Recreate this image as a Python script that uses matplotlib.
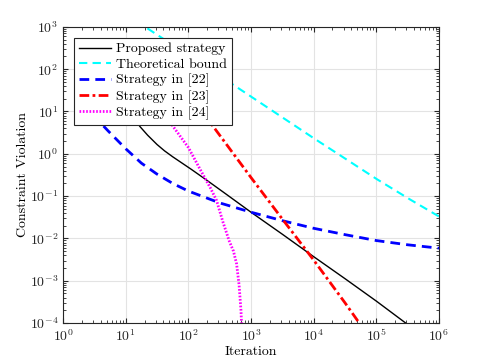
import matplotlib
matplotlib.use('Agg')
import matplotlib.pyplot as plt
import numpy as np

plt.rcParams['font.family'] = ['cmr10', 'DejaVu Serif']
plt.rcParams['mathtext.fontset'] = 'cm'
plt.rcParams['axes.formatter.use_mathtext'] = True
plt.rcParams['font.size'] = 10

# log10 of iteration / log10 of violation
proposed_x = [0.6, 1.23, 1.35, 1.5, 1.62, 1.75, 1.9, 2.05, 2.3, 2.6, 3.0, 3.5, 4.0, 4.5, 5.0, 5.47, 5.6]
proposed_y = [1.9, 0.64, 0.44, 0.22, 0.07, -0.07, -0.22, -0.37, -0.63, -0.95, -1.38, -1.9, -2.43, -2.95, -3.48, -4.0, -4.14]

bound_x = [0.0, 1.31, 2.82, 3.99, 5.01, 5.54, 6.0]
bound_y = [4.25, 3.0, 1.53, 0.38, -0.6, -1.08, -1.48]

s22_x = [0.3, 0.72, 1.0, 1.25, 1.5, 1.75, 2.0, 2.5, 3.0, 3.5, 4.0, 4.5, 5.0, 5.5, 6.0]
s22_y = [1.2, 0.54, 0.12, -0.22, -0.48, -0.7, -0.88, -1.16, -1.38, -1.58, -1.76, -1.91, -2.05, -2.15, -2.23]

s23_x = [1.5, 2.4, 3.0, 3.5, 4.0, 4.5, 4.71, 4.85]
s23_y = [2.4, 0.64, -0.56, -1.54, -2.51, -3.52, -3.96, -4.25]

s24_x = [0.8, 1.76, 2.0, 2.2, 2.35, 2.45, 2.55, 2.65, 2.72, 2.77, 2.81, 2.84, 2.855]
s24_y = [2.6, 0.64, 0.15, -0.4, -0.8, -1.1, -1.6, -2.05, -2.3, -2.6, -3.1, -3.7, -4.2]

fig = plt.figure(figsize=(4.85, 3.63), dpi=100)
ax = fig.add_axes([0.130, 0.110, 0.775, 0.816])

def p(v):
    return 10.0 ** np.array(v)

ax.plot(p(proposed_x), p(proposed_y), color='k', lw=1.0, label='Proposed strategy')
ax.plot(p(bound_x), p(bound_y), color='cyan', lw=1.5, ls=(0, (4, 2.5)), label='Theoretical bound')
ax.plot(p(s22_x), p(s22_y), color='blue', lw=2.0, ls=(0, (3.5, 2.2)), label='Strategy in [22]')
ax.plot(p(s23_x), p(s23_y), color='red', lw=2.0, ls=(0, (3.5, 1.2, 1, 1.2)), label='Strategy in [23]')
ax.plot(p(s24_x), p(s24_y), color='magenta', lw=2.0, ls=(0, (0.6, 0.6)), label='Strategy in [24]')

ax.set_xscale('log')
ax.set_yscale('log')
ax.set_xlim(1, 1e6)
ax.set_ylim(1e-4, 1e3)
ax.set_xticks([10.0 ** k for k in range(7)])
ax.set_yticks([10.0 ** k for k in range(-4, 4)])
ax.grid(True, which='major', color='#e3e3e3', lw=0.8)
ax.set_axisbelow(True)
ax.tick_params(which='both', direction='in', top=True, right=True, colors='#262626', labelcolor='#262626')
ax.tick_params(which='major', length=3.5)
ax.tick_params(which='minor', length=2)
for s in ax.spines.values():
    s.set_color('#262626')
    s.set_linewidth(0.8)

ax.set_xlabel('Iteration', labelpad=1)
ax.set_ylabel('Constraint Violation', labelpad=0.5)

leg = ax.legend(loc='upper left', bbox_to_anchor=(0.029, 0.963), borderaxespad=0,
                fancybox=False, framealpha=1, edgecolor='#262626',
                handlelength=2.3, labelspacing=0.2, borderpad=0.35, handletextpad=0.4)
leg.get_frame().set_linewidth(0.8)

fig.savefig('out.png', dpi=100)
